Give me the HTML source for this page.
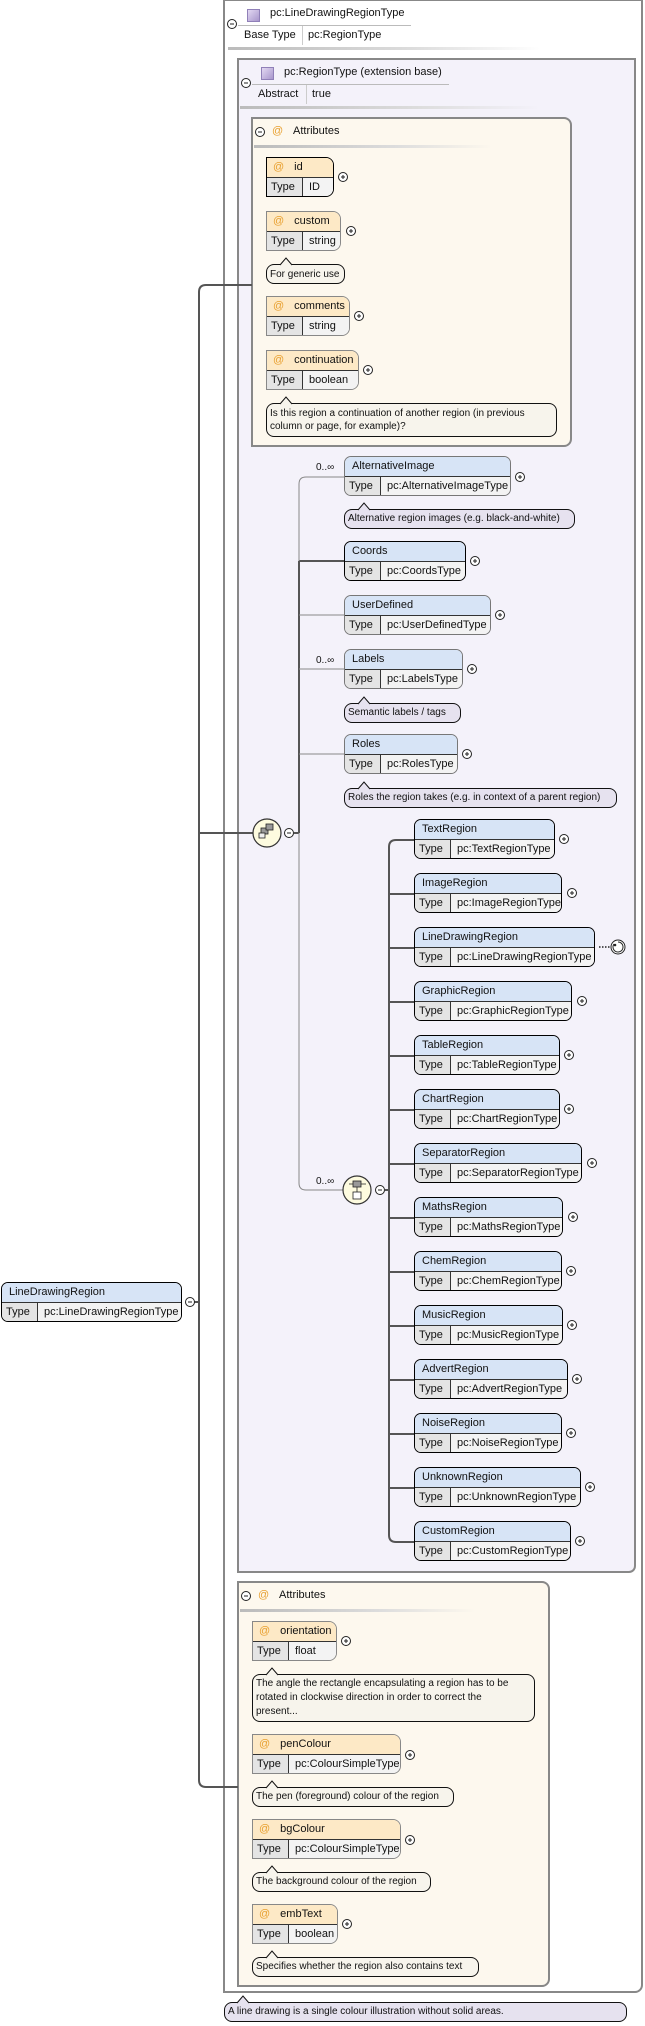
<!DOCTYPE html>
<html><head><meta charset="utf-8"><style>
*{box-sizing:border-box;margin:0;padding:0}
body{width:645px;height:2026px;position:relative;background:#fff;font-family:"Liberation Sans",Arial,sans-serif;font-size:11px;color:#111;overflow:hidden}
.a{position:absolute}
.box{position:absolute;border:2px solid #888}
.el{position:absolute;height:40px;border:1px solid #000;border-radius:7px;overflow:hidden;font-size:11px}
.el.o{border-color:#777}
.h{height:20px;background:#d7e4f6;border-bottom:1px solid #333;padding-left:7px;line-height:19px;white-space:nowrap}
.t{display:flex;height:19px;line-height:18px;white-space:nowrap}
.k{width:36px;flex:none;background:#e4e4e4;border-right:1px solid #333;padding-left:4px}
.v{flex:1;background:#f3f3f3;padding-left:6px}
.at{position:absolute;height:40px;border:1px solid #000;border-radius:0 8px 8px 0;overflow:hidden}
.at.o{border-color:#888}
.at .h{background:#fde9c6;padding-left:6px}
.at .h b{color:#e8a030;font-weight:normal;margin-right:10px}
.n{position:absolute;border:1px solid #111;border-radius:8px;background:#e6e2ef;font-size:10px;line-height:13px;padding:3px 3px;white-space:nowrap}
.n.c{background:#f7f4ec}
.sh{position:absolute;height:3px;background:linear-gradient(to right,#bbb,#ddd 60%,rgba(255,255,255,0))}
</style></head><body>

<div class="box" style="left:223px;top:-1px;width:420px;height:1994px;background:#fff;border-radius:0 0 8px 0"></div>
<div class="a" style="left:247px;top:9px;width:13px;height:13px;background:linear-gradient(135deg,#e2d8f2,#a896cc);border:1px solid #9080b8"></div>
<div class="a" style="left:270px;top:7px">pc:LineDrawingRegionType</div>
<div class="a" style="left:238px;top:25px;width:173px;height:1px;background:#bbb"></div>
<div class="a" style="left:244px;top:29px">Base Type</div>
<div class="a" style="left:302px;top:26px;width:1px;height:19px;background:#ccc"></div>
<div class="a" style="left:308px;top:29px">pc:RegionType</div>
<div class="sh" style="left:228px;top:47px;width:312px"></div>

<div class="box" style="left:237px;top:58px;width:399px;height:1515px;background:#f4f2fa;border-radius:0 0 7px 0"></div>
<div class="a" style="left:261px;top:67px;width:13px;height:13px;background:linear-gradient(135deg,#e2d8f2,#a896cc);border:1px solid #9080b8"></div>
<div class="a" style="left:284px;top:66px">pc:RegionType (extension base)</div>
<div class="a" style="left:252px;top:84px;width:197px;height:1px;background:#bbb"></div>
<div class="a" style="left:258px;top:88px">Abstract</div>
<div class="a" style="left:306px;top:85px;width:1px;height:19px;background:#ccc"></div>
<div class="a" style="left:312px;top:88px">true</div>
<div class="sh" style="left:240px;top:106px;width:300px"></div>

<div class="box" style="left:251px;top:117px;width:321px;height:330px;background:#fdf8ee;border-radius:0 8px 8px 0"></div>
<div class="a" style="left:272px;top:125px;color:#e8a030">@</div>
<div class="a" style="left:293px;top:125px">Attributes</div>
<div class="sh" style="left:254px;top:145px;width:238px"></div>

<div class="at" style="left:266px;top:157px;width:68px"><div class="h"><b>@</b>id</div><div class="t"><span class="k">Type</span><span class="v">ID</span></div></div>
<div class="at o" style="left:266px;top:211px;width:75px"><div class="h"><b>@</b>custom</div><div class="t"><span class="k">Type</span><span class="v">string</span></div></div>
<div class="n c" style="left:266px;top:264px;width:79px;height:20px">For generic use</div>
<div class="at o" style="left:266px;top:296px;width:84px"><div class="h"><b>@</b>comments</div><div class="t"><span class="k">Type</span><span class="v">string</span></div></div>
<div class="at o" style="left:266px;top:350px;width:93px"><div class="h"><b>@</b>continuation</div><div class="t"><span class="k">Type</span><span class="v">boolean</span></div></div>
<div class="n c" style="left:266px;top:403px;width:291px;height:34px">Is this region a continuation of another region (in previous<br>column or page, for example)?</div>

<div class="a" style="left:316px;top:462px;font-size:10px">0..∞</div>
<div class="el o" style="left:344px;top:456px;width:167px"><div class="h">AlternativeImage</div><div class="t"><span class="k">Type</span><span class="v">pc:AlternativeImageType</span></div></div>
<div class="n" style="left:344px;top:509px;width:231px;height:20px;line-height:13px;padding-top:2px">Alternative region images (e.g. black-and-white)</div>
<div class="el" style="left:344px;top:541px;width:122px"><div class="h">Coords</div><div class="t"><span class="k">Type</span><span class="v">pc:CoordsType</span></div></div>
<div class="el o" style="left:344px;top:595px;width:147px"><div class="h">UserDefined</div><div class="t"><span class="k">Type</span><span class="v">pc:UserDefinedType</span></div></div>
<div class="a" style="left:316px;top:655px;font-size:10px">0..∞</div>
<div class="el o" style="left:344px;top:649px;width:119px"><div class="h">Labels</div><div class="t"><span class="k">Type</span><span class="v">pc:LabelsType</span></div></div>
<div class="n" style="left:344px;top:703px;width:117px;height:20px;padding-top:2px">Semantic labels / tags</div>
<div class="el o" style="left:344px;top:734px;width:114px"><div class="h">Roles</div><div class="t"><span class="k">Type</span><span class="v">pc:RolesType</span></div></div>
<div class="n" style="left:344px;top:788px;width:273px;height:20px;padding-top:2px">Roles the region takes (e.g. in context of a parent region)</div>

<div class="a" style="left:316px;top:1176px;font-size:10px">0..∞</div>
<div class="el" style="left:414px;top:819px;width:141px"><div class="h">TextRegion</div><div class="t"><span class="k">Type</span><span class="v">pc:TextRegionType</span></div></div>
<div class="el" style="left:414px;top:873px;width:148px"><div class="h">ImageRegion</div><div class="t"><span class="k">Type</span><span class="v">pc:ImageRegionType</span></div></div>
<div class="el" style="left:414px;top:927px;width:181px"><div class="h">LineDrawingRegion</div><div class="t"><span class="k">Type</span><span class="v">pc:LineDrawingRegionType</span></div></div>
<div class="el" style="left:414px;top:981px;width:158px"><div class="h">GraphicRegion</div><div class="t"><span class="k">Type</span><span class="v">pc:GraphicRegionType</span></div></div>
<div class="el" style="left:414px;top:1035px;width:146px"><div class="h">TableRegion</div><div class="t"><span class="k">Type</span><span class="v">pc:TableRegionType</span></div></div>
<div class="el" style="left:414px;top:1089px;width:146px"><div class="h">ChartRegion</div><div class="t"><span class="k">Type</span><span class="v">pc:ChartRegionType</span></div></div>
<div class="el" style="left:414px;top:1143px;width:168px"><div class="h">SeparatorRegion</div><div class="t"><span class="k">Type</span><span class="v">pc:SeparatorRegionType</span></div></div>
<div class="el" style="left:414px;top:1197px;width:149px"><div class="h">MathsRegion</div><div class="t"><span class="k">Type</span><span class="v">pc:MathsRegionType</span></div></div>
<div class="el" style="left:414px;top:1251px;width:148px"><div class="h">ChemRegion</div><div class="t"><span class="k">Type</span><span class="v">pc:ChemRegionType</span></div></div>
<div class="el" style="left:414px;top:1305px;width:149px"><div class="h">MusicRegion</div><div class="t"><span class="k">Type</span><span class="v">pc:MusicRegionType</span></div></div>
<div class="el" style="left:414px;top:1359px;width:154px"><div class="h">AdvertRegion</div><div class="t"><span class="k">Type</span><span class="v">pc:AdvertRegionType</span></div></div>
<div class="el" style="left:414px;top:1413px;width:148px"><div class="h">NoiseRegion</div><div class="t"><span class="k">Type</span><span class="v">pc:NoiseRegionType</span></div></div>
<div class="el" style="left:414px;top:1467px;width:167px"><div class="h">UnknownRegion</div><div class="t"><span class="k">Type</span><span class="v">pc:UnknownRegionType</span></div></div>
<div class="el" style="left:414px;top:1521px;width:157px"><div class="h">CustomRegion</div><div class="t"><span class="k">Type</span><span class="v">pc:CustomRegionType</span></div></div>

<div class="box" style="left:237px;top:1581px;width:313px;height:406px;background:#fdf8ee;border-radius:0 8px 8px 0"></div>
<div class="a" style="left:258px;top:1589px;color:#e8a030">@</div>
<div class="a" style="left:279px;top:1589px">Attributes</div>
<div class="sh" style="left:240px;top:1609px;width:235px"></div>
<div class="at o" style="left:252px;top:1621px;width:85px"><div class="h"><b>@</b>orientation</div><div class="t"><span class="k">Type</span><span class="v">float</span></div></div>
<div class="n c" style="left:252px;top:1674px;width:283px;height:48px;line-height:14px;padding:2px 3px">The angle the rectangle encapsulating a region has to be<br>rotated in clockwise direction in order to correct the<br>present...</div>
<div class="at o" style="left:252px;top:1734px;width:149px"><div class="h"><b>@</b>penColour</div><div class="t"><span class="k">Type</span><span class="v">pc:ColourSimpleType</span></div></div>
<div class="n c" style="left:252px;top:1787px;width:202px;height:20px;padding:2px 3px">The pen (foreground) colour of the region</div>
<div class="at o" style="left:252px;top:1819px;width:149px"><div class="h"><b>@</b>bgColour</div><div class="t"><span class="k">Type</span><span class="v">pc:ColourSimpleType</span></div></div>
<div class="n c" style="left:252px;top:1872px;width:179px;height:20px;padding:2px 3px">The background colour of the region</div>
<div class="at o" style="left:252px;top:1904px;width:86px"><div class="h"><b>@</b>embText</div><div class="t"><span class="k">Type</span><span class="v">boolean</span></div></div>
<div class="n c" style="left:252px;top:1957px;width:227px;height:20px;padding:2px 3px">Specifies whether the region also contains text</div>

<div class="n" style="left:224px;top:2002px;width:403px;height:20px;padding:2px 3px">A line drawing is a single colour illustration without solid areas.</div>

<div class="el" style="left:1px;top:1282px;width:181px"><div class="h">LineDrawingRegion</div><div class="t"><span class="k">Type</span><span class="v">pc:LineDrawingRegionType</span></div></div>

<svg class="a" style="left:0;top:0" width="645" height="2026" viewBox="0 0 645 2026">
<g fill="none" stroke="#555" stroke-width="2">
<path d="M252 285H206Q199 285 199 292V1780Q199 1787 206 1787H238"/>
<path d="M194 1302H199"/>
<path d="M199 833H253"/>
<path d="M294 833H299"/>
<path d="M299 561V833"/>
<path d="M299 561H344"/>
<path d="M385 1190H389"/>
<path d="M414 840H396Q389 840 389 847V1535Q389 1542 396 1542H414"/>
<path d="M389 894H414M389 948H414M389 1002H414M389 1056H414M389 1110H414M389 1164H414M389 1218H414M389 1272H414M389 1326H414M389 1380H414M389 1434H414M389 1488H414"/>
</g>
<g fill="none" stroke="#888" stroke-width="1">
<path d="M344 477H306Q299 477 299 484V561"/>
<path d="M299 615H344M299 669H344M299 754H344"/>
<path d="M299 833V1183Q299 1190 306 1190H343"/>
</g>
<g stroke="#111" stroke-width="1">
<path d="M280 265L286 258L292 265" fill="#f7f4ec"/>
<path d="M280 404L286 397L292 404" fill="#f7f4ec"/>
<path d="M358 510L364 503L370 510" fill="#e6e2ef"/>
<path d="M358 704L364 697L370 704" fill="#e6e2ef"/>
<path d="M358 789L364 782L370 789" fill="#e6e2ef"/>
<path d="M266 1675L272 1668L278 1675" fill="#f7f4ec"/>
<path d="M266 1788L272 1781L278 1788" fill="#f7f4ec"/>
<path d="M266 1873L272 1866L278 1873" fill="#f7f4ec"/>
<path d="M266 1958L272 1951L278 1958" fill="#f7f4ec"/>
<path d="M237 2003L243 1996L249 2003" fill="#e6e2ef"/>
</g>
<circle cx="267" cy="833" r="14" fill="#fdfbdf" stroke="#333" stroke-width="1.2"/>
<g fill="#999" stroke="#222" stroke-width="0.8"><rect x="261" y="828" width="7" height="6"/><rect x="266" y="824" width="7" height="6"/><rect x="259" y="833" width="6" height="5" fill="#eee"/></g>
<circle cx="357" cy="1190" r="14" fill="#fdfbdf" stroke="#333" stroke-width="1.2"/>
<g stroke="#222" stroke-width="0.8"><rect x="353" y="1181" width="8" height="6" fill="#999"/><rect x="353" y="1192" width="8" height="7" fill="#fff"/><path d="M349 1184H353M361 1184H366M357 1187V1192" fill="none"/></g>
<g fill="#fff" stroke="#222" stroke-width="1">
<circle cx="232" cy="24" r="4.5"/><circle cx="246" cy="83" r="4.5"/><circle cx="260" cy="132" r="4.5"/>
<circle cx="190" cy="1302" r="4.5"/><circle cx="289" cy="833" r="4.5"/><circle cx="380" cy="1190" r="4.5"/>
<circle cx="246" cy="1596" r="4.5"/>
</g>
<g stroke="#222" stroke-width="1">
<path d="M230 24H234M244 83H248M258 132H262M188 1302H192M287 833H291M378 1190H382M244 1596H248"/>
</g>
<g fill="#fff" stroke="#222" stroke-width="1">
<circle cx="343" cy="177" r="4.5"/><circle cx="351" cy="231" r="4.5"/><circle cx="359" cy="316" r="4.5"/><circle cx="368" cy="370" r="4.5"/>
<circle cx="520" cy="477" r="4.5"/><circle cx="475" cy="561" r="4.5"/><circle cx="500" cy="615" r="4.5"/><circle cx="472" cy="669" r="4.5"/><circle cx="467" cy="754" r="4.5"/>
<circle cx="564" cy="839" r="4.5"/><circle cx="572" cy="893" r="4.5"/><circle cx="582" cy="1001" r="4.5"/><circle cx="569" cy="1055" r="4.5"/><circle cx="569" cy="1109" r="4.5"/><circle cx="592" cy="1163" r="4.5"/><circle cx="573" cy="1217" r="4.5"/>
<circle cx="571" cy="1271" r="4.5"/><circle cx="572" cy="1325" r="4.5"/><circle cx="577" cy="1379" r="4.5"/><circle cx="571" cy="1433" r="4.5"/><circle cx="590" cy="1487" r="4.5"/><circle cx="580" cy="1541" r="4.5"/>
<circle cx="346" cy="1641" r="4.5"/><circle cx="410" cy="1755" r="4.5"/><circle cx="410" cy="1840" r="4.5"/><circle cx="347" cy="1924" r="4.5"/>
</g>
<g stroke="#222" stroke-width="1">
<path d="M341 177h4M343 175v4M349 231h4M351 229v4M357 316h4M359 314v4M366 370h4M368 368v4"/>
<path d="M518 477h4M520 475v4M473 561h4M475 559v4M498 615h4M500 613v4M470 669h4M472 667v4M465 754h4M467 752v4"/>
<path d="M562 839h4M564 837v4M570 893h4M572 891v4M580 1001h4M582 999v4M567 1055h4M569 1053v4M567 1109h4M569 1107v4M590 1163h4M592 1161v4M571 1217h4M573 1215v4"/>
<path d="M569 1271h4M571 1269v4M570 1325h4M572 1323v4M575 1379h4M577 1377v4M569 1433h4M571 1431v4M588 1487h4M590 1485v4M578 1541h4M580 1539v4"/>
<path d="M344 1641h4M346 1639v4M408 1755h4M410 1753v4M408 1840h4M410 1838v4M345 1924h4M347 1922v4"/>
</g>
<path d="M599 947H610" stroke="#222" stroke-width="1.5" stroke-dasharray="1.5 1.5"/>
<circle cx="618" cy="947" r="7" fill="#fff" stroke="#222"/>
<path d="M614 944A5 5 0 1 0 618 942" fill="none" stroke="#222"/>
<circle cx="615" cy="945" r="1.3" fill="#222"/>
</svg>
</body></html>
